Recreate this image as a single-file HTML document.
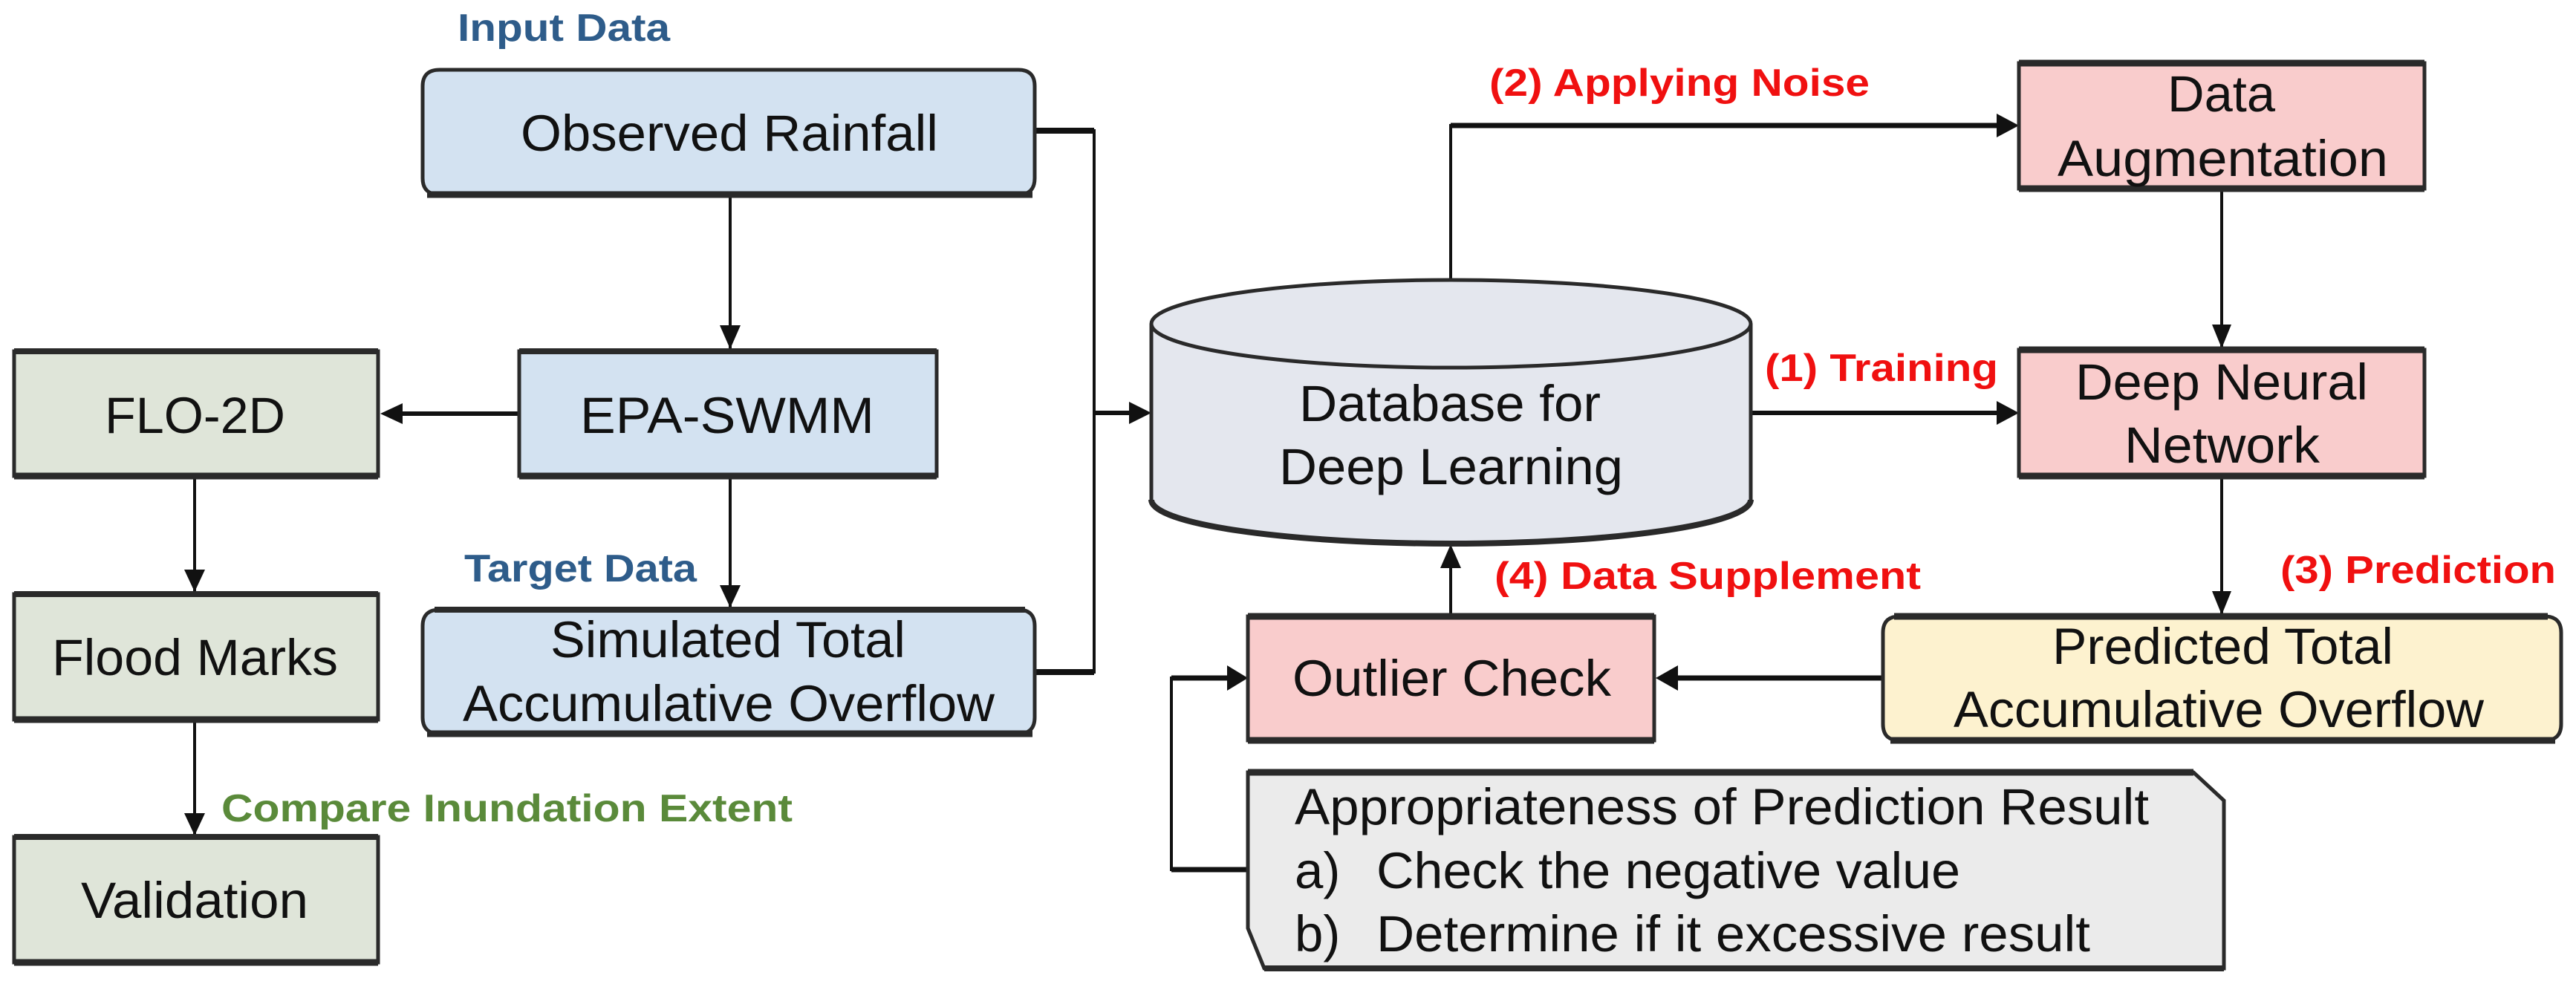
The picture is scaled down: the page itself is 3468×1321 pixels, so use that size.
<!DOCTYPE html>
<html><head><meta charset="utf-8"><style>
html,body{margin:0;padding:0;background:#fff}
svg{display:block}
text{font-family:"Liberation Sans",Arial,sans-serif}
.b{fill:#111;font-size:69px}
.l{font-size:52px;font-weight:bold}
</style></head><body>
<svg width="3468" height="1321" viewBox="0 0 3468 1321" xmlns="http://www.w3.org/2000/svg">
<g stroke="#111" stroke-width="4" fill="none">
<line x1="983" y1="265" x2="983" y2="469"/>
<path d="M983,470 l-14,-32 l28,0z" fill="#111" stroke="none"/>
<line x1="697" y1="557" x2="540" y2="557" stroke-width="6"/>
<path d="M512,557 l30,-14 l0,28z" fill="#111" stroke="none"/>
<line x1="262" y1="643" x2="262" y2="796"/>
<path d="M262,797 l-14,-30 l28,0z" fill="#111" stroke="none"/>
<line x1="262" y1="971" x2="262" y2="1124"/>
<path d="M262,1125 l-14,-30 l28,0z" fill="#111" stroke="none"/>
<line x1="983" y1="643" x2="983" y2="817"/>
<path d="M983,818 l-14,-30 l28,0z" fill="#111" stroke="none"/>
<polyline points="1393,176 1473,176 1473,905 1393,905" stroke-width="4"/>
<line x1="1393" y1="176" x2="1473" y2="176" stroke-width="8"/>
<line x1="1393" y1="905" x2="1473" y2="905" stroke-width="8"/>
<line x1="1473" y1="556" x2="1530" y2="556" stroke-width="6"/>
<path d="M1550,556 l-30,-15 l0,30z" fill="#111" stroke="none"/>
<polyline points="1953,378 1953,169 2700,169"/>
<line x1="1953" y1="169" x2="2700" y2="169" stroke-width="7"/>
<path d="M2718,169 l-30,-16 l0,32z" fill="#111" stroke="none"/>
<line x1="2357" y1="556" x2="2700" y2="556" stroke-width="6"/>
<path d="M2718,556 l-30,-16 l0,32z" fill="#111" stroke="none"/>
<line x1="2991" y1="255" x2="2991" y2="467"/>
<path d="M2991,469 l-13,-32 l26,0z" fill="#111" stroke="none"/>
<line x1="2991" y1="643" x2="2991" y2="826"/>
<path d="M2991,828 l-13,-32 l26,0z" fill="#111" stroke="none"/>
<line x1="2535" y1="913" x2="2250" y2="913" stroke-width="7"/>
<path d="M2229,913 l30,-17 l0,34z" fill="#111" stroke="none"/>
<line x1="1953" y1="828" x2="1953" y2="755"/>
<path d="M1953,733 l-14,32 l28,0z" fill="#111" stroke="none"/>
<polyline points="1680,1171 1577,1171 1577,913 1660,913"/>
<line x1="1577" y1="1171" x2="1680" y2="1171" stroke-width="7"/>
<line x1="1577" y1="913" x2="1660" y2="913" stroke-width="7"/>
<path d="M1680,913 l-28,-17 l0,34z" fill="#111" stroke="none"/>
</g>

<g stroke="#2a2a2a" stroke-width="5">
<path d="M592,94 H1371 Q1393,94 1393,116 V240 Q1393,262 1371,262 H592 Q569,262 569,240 V116 Q569,94 592,94z" fill="#d3e2f1"/>
<line x1="575" y1="262" x2="1390" y2="262" stroke-width="9"/>
<rect x="699" y="473" width="562" height="168" fill="#d3e2f1"/>
<line x1="699" y1="641" x2="1261" y2="641" stroke-width="9"/><line x1="699" y1="473" x2="1261" y2="473" stroke-width="8"/>
<rect x="19" y="473" width="490" height="168" fill="#dfe5d9"/>
<line x1="19" y1="641" x2="509" y2="641" stroke-width="9"/><line x1="19" y1="473" x2="509" y2="473" stroke-width="8"/>
<rect x="19" y="800" width="490" height="169" fill="#dfe5d9"/>
<line x1="19" y1="969" x2="509" y2="969" stroke-width="9"/><line x1="19" y1="800" x2="509" y2="800" stroke-width="8"/>
<rect x="19" y="1127" width="490" height="169" fill="#dfe5d9"/>
<line x1="19" y1="1296" x2="509" y2="1296" stroke-width="9"/><line x1="19" y1="1127" x2="509" y2="1127" stroke-width="8"/>
<path d="M592,821 H1371 Q1393,821 1393,843 V966 Q1393,988 1371,988 H592 Q569,988 569,966 V843 Q569,821 592,821z" fill="#d3e2f1"/>
<line x1="575" y1="988" x2="1390" y2="988" stroke-width="9"/><line x1="585" y1="821" x2="1380" y2="821" stroke-width="8"/>
<rect x="2718" y="85" width="546" height="169" fill="#f9cccc"/>
<line x1="2718" y1="254" x2="3264" y2="254" stroke-width="9"/><line x1="2718" y1="85" x2="3264" y2="85" stroke-width="9"/>
<rect x="2718" y="471" width="546" height="170" fill="#f9cccc"/>
<line x1="2718" y1="641" x2="3264" y2="641" stroke-width="9"/><line x1="2718" y1="471" x2="3264" y2="471" stroke-width="9"/>
<rect x="1680" y="830" width="547" height="167" fill="#f9cccc"/>
<line x1="1680" y1="997" x2="2227" y2="997" stroke-width="9"/><line x1="1680" y1="830" x2="2227" y2="830" stroke-width="9"/>
<path d="M2557,830 H3426 Q3448,830 3448,852 V975 Q3448,997 3426,997 H2557 Q2535,997 2535,975 V852 Q2535,830 2557,830z" fill="#fdf2cf"/>
<line x1="2545" y1="997" x2="3440" y2="997" stroke-width="9"/><line x1="2550" y1="830" x2="3430" y2="830" stroke-width="9"/>
<path d="M1680,1040 H2953 L2994,1078 V1304 H1702 L1680,1250 Z" fill="#ebebeb"/>
<line x1="1680" y1="1040" x2="2953" y2="1040" stroke-width="9"/><line x1="1702" y1="1304" x2="2994" y2="1304" stroke-width="8"/>
<path d="M1550,436 V673 A403.5,59 0 0 0 2357,673 V436" fill="#e4e7ee"/>
<ellipse cx="1953.5" cy="436" rx="403.5" ry="59" fill="#e4e7ee"/>
<path d="M1550,673 A403.5,59 0 0 0 2357,673" fill="none" stroke-width="8"/>
</g>

<text x="616" y="55" class="l" fill="#2e5c8a" textLength="286" lengthAdjust="spacingAndGlyphs">Input Data</text>
<text x="625" y="783" class="l" fill="#2e5c8a" textLength="313" lengthAdjust="spacingAndGlyphs">Target Data</text>
<text x="298" y="1106" class="l" fill="#5a8a3a" textLength="769" lengthAdjust="spacingAndGlyphs">Compare Inundation Extent</text>
<text x="2005" y="129" class="l" fill="#f01010" textLength="512" lengthAdjust="spacingAndGlyphs">(2) Applying Noise</text>
<text x="2376" y="513" class="l" fill="#f01010" textLength="314" lengthAdjust="spacingAndGlyphs">(1) Training</text>
<text x="2012" y="793" class="l" fill="#f01010" textLength="574" lengthAdjust="spacingAndGlyphs">(4) Data Supplement</text>
<text x="3070" y="785" class="l" fill="#f01010" textLength="371" lengthAdjust="spacingAndGlyphs">(3) Prediction</text>

<text x="701" y="203" class="b" textLength="562" lengthAdjust="spacingAndGlyphs">Observed Rainfall</text>
<text x="781" y="583" class="b" textLength="396" lengthAdjust="spacingAndGlyphs">EPA-SWMM</text>
<text x="141" y="583" class="b" textLength="243" lengthAdjust="spacingAndGlyphs">FLO-2D</text>
<text x="70" y="909" class="b" textLength="385" lengthAdjust="spacingAndGlyphs">Flood Marks</text>
<text x="109" y="1236" class="b" textLength="306" lengthAdjust="spacingAndGlyphs">Validation</text>
<text x="741" y="885" class="b" textLength="478" lengthAdjust="spacingAndGlyphs">Simulated Total</text>
<text x="623" y="971" class="b" textLength="716" lengthAdjust="spacingAndGlyphs">Accumulative Overflow</text>
<text x="2918" y="150" class="b" textLength="145" lengthAdjust="spacingAndGlyphs">Data</text>
<text x="2770" y="237" class="b" textLength="445" lengthAdjust="spacingAndGlyphs">Augmentation</text>
<text x="2794" y="538" class="b" textLength="394" lengthAdjust="spacingAndGlyphs">Deep Neural</text>
<text x="2860" y="623" class="b" textLength="263" lengthAdjust="spacingAndGlyphs">Network</text>
<text x="1749" y="567" class="b" textLength="406" lengthAdjust="spacingAndGlyphs">Database for</text>
<text x="1722" y="652" class="b" textLength="463" lengthAdjust="spacingAndGlyphs">Deep Learning</text>
<text x="1740" y="937" class="b" textLength="429" lengthAdjust="spacingAndGlyphs">Outlier Check</text>
<text x="2763" y="894" class="b" textLength="459" lengthAdjust="spacingAndGlyphs">Predicted Total</text>
<text x="2630" y="979" class="b" textLength="714" lengthAdjust="spacingAndGlyphs">Accumulative Overflow</text>
<text x="1743" y="1110" class="b" textLength="1150" lengthAdjust="spacingAndGlyphs">Appropriateness of Prediction Result</text>
<text x="1743" y="1196" class="b">a)</text>
<text x="1853" y="1196" class="b" textLength="786" lengthAdjust="spacingAndGlyphs">Check the negative value</text>
<text x="1743" y="1281" class="b">b)</text>
<text x="1853" y="1281" class="b" textLength="961" lengthAdjust="spacingAndGlyphs">Determine if it excessive result</text>
</svg>
</body></html>
